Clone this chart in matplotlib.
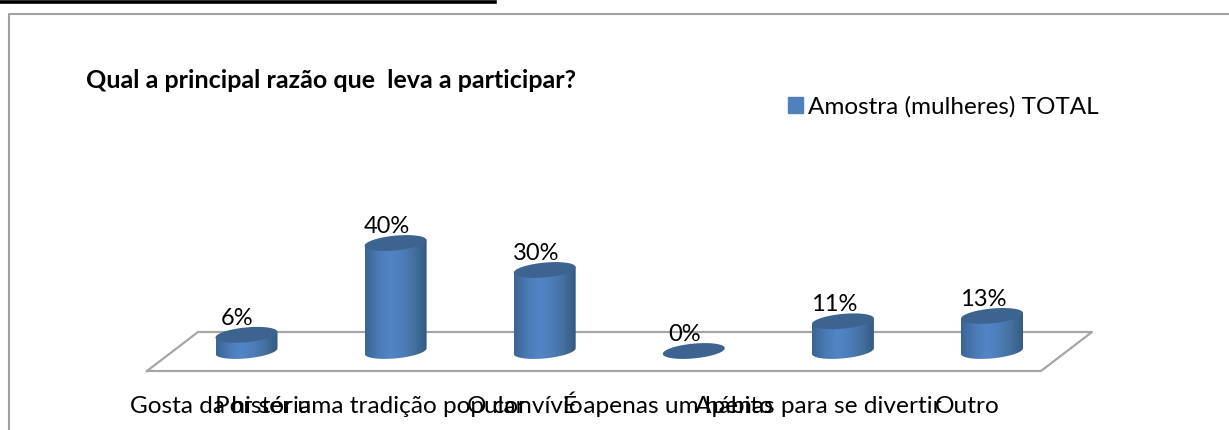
import numpy as np
import matplotlib
matplotlib.use("Agg")
import matplotlib.pyplot as plt
from matplotlib.lines import Line2D
from matplotlib.patches import Patch, Polygon
from matplotlib.colors import LinearSegmentedColormap

plt.rcParams['font.family'] = ['Lato', 'DejaVu Sans']

# values
categories = ["Gosta da história", "Por ser uma tradição popular", "O convívio",
              "É apenas um hábito", "Apenas para se divertir", "Outro"]
label_left_px = [130, 215, 467, 563, 695, 935]
values = [6, 40, 30, 0, 11, 13]
series_name = "Amostra (mulheres) TOTAL"
title = "Qual a principal razão que  leva a participar?"

W, H = 1229, 430
fig = plt.figure(figsize=(W / 100, H / 100), dpi=100, facecolor='white')
ax = fig.add_axes([0, 0, 1, 1])
ax.patch.set_visible(False)
ax.axis('off')

# one category = 149.1 px, one percent = 2.7 px
dx_cat = 149.1
dy_pct = 2.7
x0_px = 246.5
y0_px = 351

def fx(p):
    return p / W

def fy(p):
    return 1 - p / H

# outer frame, black bar at the top, floor of the 3d chart
gray = '#a0a0a0'
fig.add_artist(Line2D([fx(9), fx(9), fx(W)], [fy(H), fy(14), fy(14)], color=gray, lw=1.5, zorder=-1))
fig.add_artist(Line2D([0, fx(495)], [fy(1.5), fy(1.5)], color='black', lw=2.6, zorder=-1))
floor_x = [147, 198, 1092, 1041, 147]
floor_y = [371, 332, 332, 371, 371]
fig.add_artist(Line2D([fx(p) for p in floor_x], [fy(p) for p in floor_y], color='#a6a6a6', lw=1.6, zorder=-1))

grad = LinearSegmentedColormap.from_list('cyl', ['#3a6595', '#4a79b4', '#5285c6', '#4d7eba', '#45709f', '#335a82'])
grad_img = np.linspace(0, 1, 64).reshape(1, -1)

a = 31 / dx_cat       # half width of a cylinder
b = 7.4 / dy_pct      # half height of its ellipse
k = 2.8 / dy_pct      # tilt of the ellipse
t = np.linspace(0, 2 * np.pi, 80)

for i, v in enumerate(values):
    if v > 0:
        tt = np.linspace(np.pi, 2 * np.pi, 40)
        low_x = i + a * np.cos(tt)
        low_y = b * np.sin(tt) + k * np.cos(tt)
        side = Polygon(np.column_stack([np.r_[low_x, i + a, i - a], np.r_[low_y, v + k, v - k]]),
                       closed=True, fc='none', ec='none', transform=ax.transData)
        ax.add_patch(side)
        im = ax.imshow(grad_img, extent=[i - a, i + a, -12, v + 6], aspect='auto', cmap=grad, zorder=2)
        im.set_clip_path(side)
    ax.fill(i + a * np.cos(t), v + b * np.sin(t) + k * np.cos(t), color='#3d6491', lw=0, zorder=3)
    ax.annotate("%d%%" % v, (i, v), xytext=(-9, 10), textcoords='offset pixels',
                ha='center', va='baseline', fontsize=17, color='black', zorder=4)

ax.set_xlim(-x0_px / dx_cat, (W - x0_px) / dx_cat)
ax.set_ylim((y0_px - H) / dy_pct, y0_px / dy_pct)

for name, p in zip(categories, label_left_px):
    fig.text(fx(p), fy(413), name, ha='left', va='baseline', fontsize=17.6, color='black')

fig.text(fx(86), fy(87.5), title, ha='left', va='baseline', fontsize=18, fontweight='bold', color='black')

leg = ax.legend([Patch(fc='#4f81bd', ec='#4f81bd')], [series_name], loc='center left',
                bbox_to_anchor=(fx(788), fy(107)), bbox_transform=fig.transFigure,
                frameon=False, fontsize=17.5, handlelength=0.62, handleheight=0.62,
                handletextpad=0.2, borderpad=0, borderaxespad=0)

fig.savefig('out.png', dpi=100)
